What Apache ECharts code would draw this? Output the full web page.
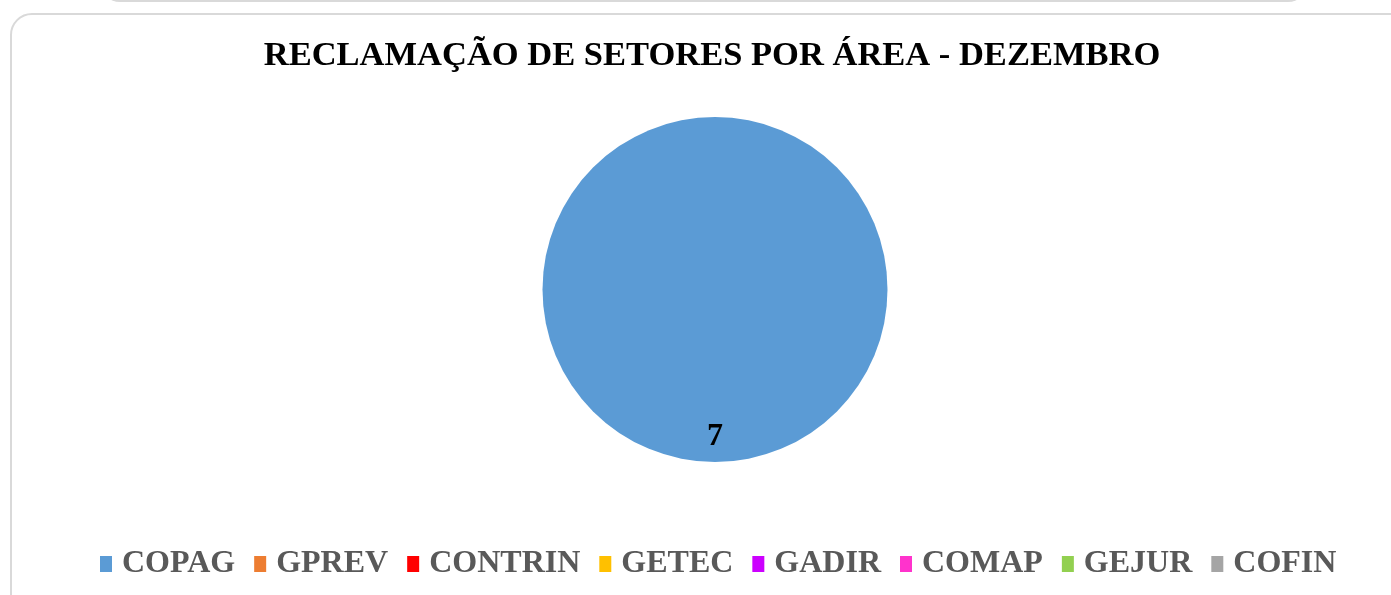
<!DOCTYPE html>
<html>
<head>
<meta charset="utf-8">
<script src="https://cdn.jsdelivr.net/npm/echarts@6/dist/echarts.min.js"></script>
<style>
html,body{margin:0;padding:0;background:#fff;overflow:hidden;}
#wrap{position:relative;width:1391px;height:595px;overflow:hidden;}
#prev{position:absolute;left:100px;top:-28px;width:1208px;height:30px;border:2px solid #d9d9d9;border-top:none;border-radius:0 0 20px 20px;box-sizing:border-box;}
#card{position:absolute;left:10px;top:13px;width:1420px;height:640px;border:2px solid #d9d9d9;border-radius:22px;box-sizing:border-box;}
#chart{position:absolute;left:0;top:0;width:1391px;height:595px;}
</style>
</head>
<body>
<div id="wrap">
<div id="prev"></div>
<div id="card"></div>
<div id="chart"></div>
</div>
<script>
const titleText = 'RECLAMAÇÃO DE SETORES POR ÁREA - DEZEMBRO';
const categories = ['COPAG','GPREV','CONTRIN','GETEC','GADIR','COMAP','GEJUR','COFIN'];
const values = [7,0,0,0,0,0,0,0];
const colors = ['#5B9BD5','#ED7D31','#FF0000','#FFC000','#CC00FF','#FF33CC','#92D050','#A5A5A5'];

const chart = echarts.init(document.getElementById('chart'), null, {renderer:'canvas'});
const serif = '"Liberation Serif","Times New Roman",serif';
chart.setOption({
  animation:false,
  color: colors,
  title:{
    text:titleText, left:707, textAlign:'center', top:34,
    textStyle:{fontFamily:serif,fontWeight:'bold',fontSize:34.5,color:'#000'}
  },
  legend:{
    data:categories, left:95, top:543, icon:'rect',
    itemWidth:12, itemHeight:16, itemGap:19,
    textStyle:{fontFamily:serif,fontWeight:'bold',fontSize:32,color:'#595959',padding:[0,0,0,5]}
  },
  series:[{
    type:'pie', center:[715,289.5], radius:172.5, startAngle:90,
    itemStyle:{borderWidth:0},
    label:{show:true, position:'inside', formatter:p=>p.value?String(p.value):'',
      fontFamily:serif,fontWeight:'bold',fontSize:32,color:'#000'},
    labelLayout:{dy:58},
    labelLine:{show:false},
    emphasis:{disabled:true},
    data: categories.map((c,i)=>({name:c,value:values[i]}))
  }]
});
</script>
</body>
</html>
